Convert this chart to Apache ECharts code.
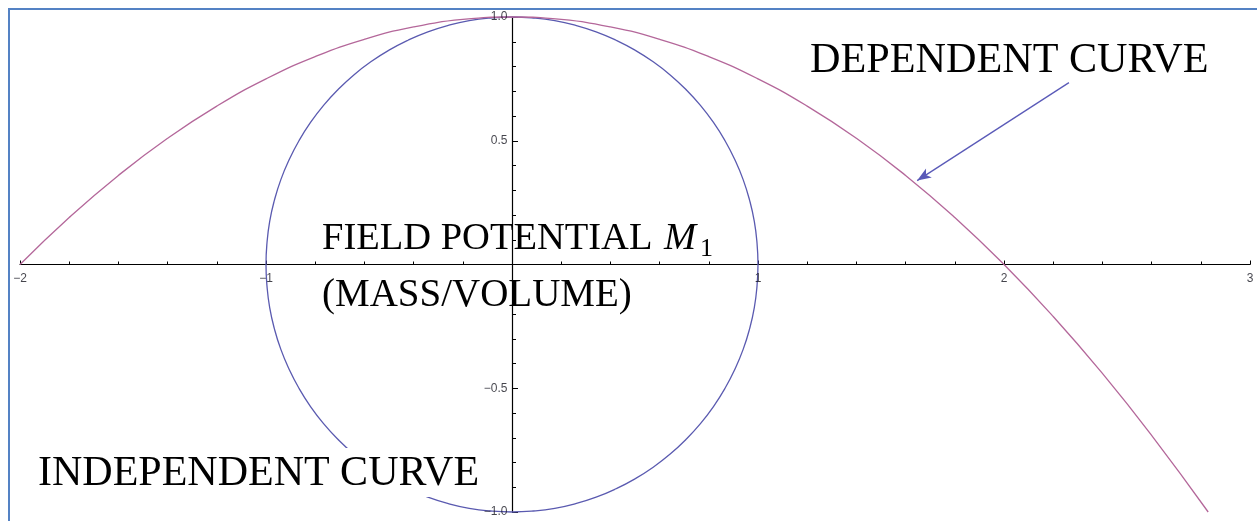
<!DOCTYPE html>
<html>
<head>
<meta charset="utf-8">
<script src="https://cdn.jsdelivr.net/npm/echarts@6/dist/echarts.min.js"></script>
<style>
  html, body { margin: 0; padding: 0; background: #ffffff; }
  #chart { width: 1257px; height: 521px; }
</style>
</head>
<body>
<div id="chart"></div>
<script>
// Independent curve: unit circle, sampled every 5 degrees
const circleX = [
  1, 0.996, 0.985, 0.966, 0.940, 0.906, 0.866, 0.819, 0.766, 0.707, 0.643, 0.574, 0.5, 0.423, 0.342, 0.259, 0.174, 0.087,
  0, -0.087, -0.174, -0.259, -0.342, -0.423, -0.5, -0.574, -0.643, -0.707, -0.766, -0.819, -0.866, -0.906, -0.940, -0.966, -0.985, -0.996,
  -1, -0.996, -0.985, -0.966, -0.940, -0.906, -0.866, -0.819, -0.766, -0.707, -0.643, -0.574, -0.5, -0.423, -0.342, -0.259, -0.174, -0.087,
  0, 0.087, 0.174, 0.259, 0.342, 0.423, 0.5, 0.574, 0.643, 0.707, 0.766, 0.819, 0.866, 0.906, 0.940, 0.966, 0.985, 0.996, 1];
const circleY = [
  0, 0.087, 0.174, 0.259, 0.342, 0.423, 0.5, 0.574, 0.643, 0.707, 0.766, 0.819, 0.866, 0.906, 0.940, 0.966, 0.985, 0.996,
  1, 0.996, 0.985, 0.966, 0.940, 0.906, 0.866, 0.819, 0.766, 0.707, 0.643, 0.574, 0.5, 0.423, 0.342, 0.259, 0.174, 0.087,
  0, -0.087, -0.174, -0.259, -0.342, -0.423, -0.5, -0.574, -0.643, -0.707, -0.766, -0.819, -0.866, -0.906, -0.940, -0.966, -0.985, -0.996,
  -1, -0.996, -0.985, -0.966, -0.940, -0.906, -0.866, -0.819, -0.766, -0.707, -0.643, -0.574, -0.5, -0.423, -0.342, -0.259, -0.174, -0.087, 0];

// Dependent curve
const curveX = [-2, -1.8, -1.6, -1.4, -1.2, -1, -0.8, -0.6, -0.4, -0.2, 0, 0.2, 0.4, 0.6, 0.8,
  1, 1.2, 1.4, 1.6, 1.8, 2, 2.2, 2.4, 2.6, 2.83];
const curveY = [0, 0.19, 0.36, 0.51, 0.64, 0.75, 0.84, 0.91, 0.96, 0.99, 1, 0.99, 0.96, 0.91, 0.84,
  0.75, 0.64, 0.51, 0.36, 0.19, 0, -0.21, -0.44, -0.69, -1.0];

// Pointer from the "DEPENDENT CURVE" caption to the curve (tail, head)
const pointerFrom = [2.264, 0.735];
const pointerTo = [1.647, 0.339];

// Axis ranges and the tick values that carry labels
const xRange = [-2, 3];
const yRange = [-1, 1];
const xTickLabels = [-2, -1, 1, 2, 3];
const yTickLabels = [-1, -0.5, 0.5, 1];

const captionFont = 'Liberation Serif';
const minus = '\u2212';

function zip(xs, ys) { return xs.map((x, i) => [x, ys[i]]); }
function fmtX(v) { return v < 0 ? minus + (-v) : String(v); }
function fmtY(v) { return v < 0 ? minus + (-v).toFixed(1) : v.toFixed(1); }

const tickLabelStyle = { fontSize: 12, fontFamily: 'Liberation Sans', color: '#15151f' };

const chart = echarts.init(document.getElementById('chart'), null, { renderer: 'canvas' });

chart.setOption({
  backgroundColor: '#ffffff',
  animation: false,
  grid: { left: 20, top: 17, width: 1230, height: 495, containLabel: false, outerBoundsMode: 'none' },
  xAxis: {
    type: 'value', min: xRange[0], max: xRange[1], interval: 1,
    axisLine: { onZero: true, lineStyle: { color: '#000', width: 1.2 } },
    axisTick: { inside: true, length: 4, lineStyle: { color: '#000' } },
    minorTick: { show: true, splitNumber: 5, length: 3, lineStyle: { color: '#000' } },
    splitLine: { show: false },
    axisLabel: { show: false }
  },
  yAxis: {
    type: 'value', min: yRange[0], max: yRange[1], interval: 0.5,
    axisLine: { onZero: true, lineStyle: { color: '#000', width: 1.2 } },
    axisTick: { inside: true, length: 6, lineStyle: { color: '#000' } },
    minorTick: { show: true, splitNumber: 5, length: 4, lineStyle: { color: '#000' } },
    splitLine: { show: false },
    axisLabel: { show: false }
  },
  series: [
    {
      name: 'Independent curve', type: 'line', data: zip(circleX, circleY),
      smooth: true, showSymbol: false, clip: false,
      lineStyle: { color: '#5a5ab0', width: 1.3 }, z: 3
    },
    {
      name: 'Dependent curve', type: 'line', data: zip(curveX, curveY),
      smooth: true, showSymbol: false, clip: false,
      lineStyle: { color: '#b4679a', width: 1.3 }, z: 3,
      markLine: {
        silent: true, symbol: ['none', 'arrow'], symbolSize: [8, 14],
        label: { show: false },
        lineStyle: { color: '#5a5ab8', width: 1.3, type: 'solid' },
        data: [[{ coord: pointerFrom }, { coord: pointerTo }]]
      }
    },
    {
      // tick labels sitting on the horizontal axis through the origin
      name: 'x tick labels', type: 'scatter', silent: true, z: 4,
      data: xTickLabels.map(v => [v, 0]),
      symbolSize: 1, itemStyle: { color: 'rgba(0,0,0,0)' },
      label: { show: true, position: 'bottom', distance: 8, ...tickLabelStyle,
        formatter: p => fmtX(p.value[0]) }
    },
    {
      // tick labels beside the vertical axis through the origin
      name: 'y tick labels', type: 'scatter', silent: true, z: 4,
      data: yTickLabels.map(v => [0, v]),
      symbolSize: 1, itemStyle: { color: 'rgba(0,0,0,0)' },
      label: { show: true, position: 'left', distance: 4, ...tickLabelStyle,
        formatter: p => fmtY(p.value[1]) }
    }
  ],
  graphic: [
    { type: 'rect', z: 100, silent: true,
      shape: { x: 9, y: 9, width: 1400, height: 700 },
      style: { fill: 'none', stroke: '#5482c4', lineWidth: 2 } },
    { type: 'rect', z: 100, silent: true,
      shape: { x: 32, y: 448, width: 452, height: 49 },
      style: { fill: '#ffffff' } },
    { type: 'text', z: 101, silent: true,
      style: { x: 38, y: 453, text: 'INDEPENDENT CURVE', font: '42px "' + captionFont + '"', fill: '#000', align: 'left', verticalAlign: 'top' } },
    { type: 'text', z: 101, silent: true,
      style: { x: 810, y: 40, text: 'DEPENDENT CURVE', font: '42.2px "' + captionFont + '"', fill: '#000', align: 'left', verticalAlign: 'top' } },
    { type: 'text', z: 101, silent: true,
      style: { x: 322, y: 219, text: 'FIELD POTENTIAL', font: '38.5px "' + captionFont + '"', fill: '#000', align: 'left', verticalAlign: 'top' } },
    { type: 'text', z: 101, silent: true,
      style: { x: 664, y: 219, text: 'M', font: 'italic 38.5px "' + captionFont + '"', fill: '#000', align: 'left', verticalAlign: 'top' } },
    { type: 'text', z: 101, silent: true,
      style: { x: 700, y: 236, text: '1', font: '26px "' + captionFont + '"', fill: '#000', align: 'left', verticalAlign: 'top' } },
    { type: 'text', z: 101, silent: true,
      style: { x: 322, y: 276, text: '(MASS/VOLUME)', font: '39px "' + captionFont + '"', fill: '#000', align: 'left', verticalAlign: 'top' } }
  ]
});
</script>
</body>
</html>
